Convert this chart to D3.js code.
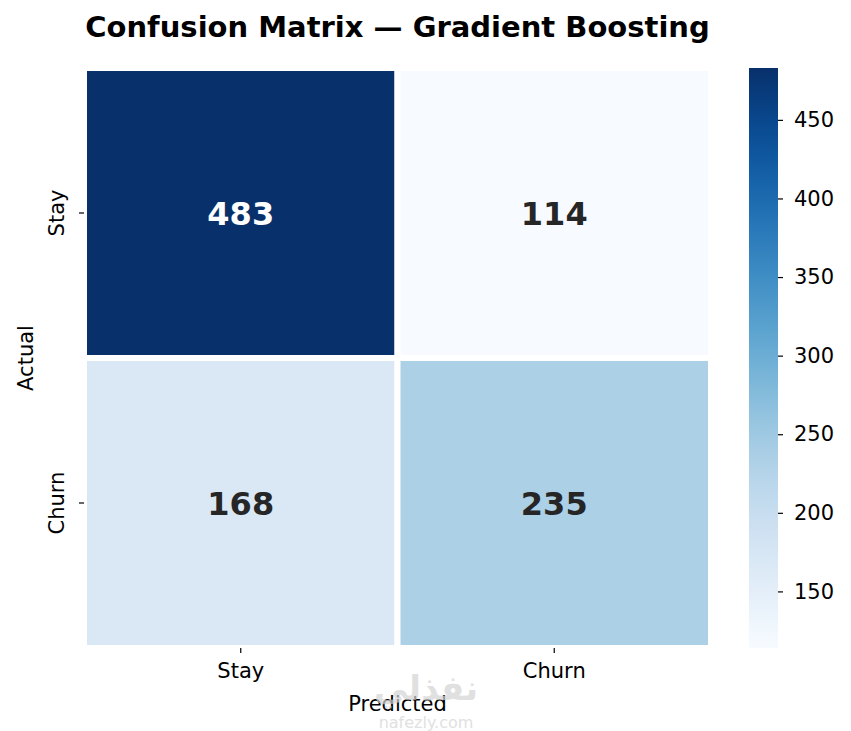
<!DOCTYPE html>
<html>
<head>
<meta charset="utf-8">
<script src="https://cdn.jsdelivr.net/npm/d3@7"></script>
<style>
  html, body { margin: 0; padding: 0; background: #fff; }
  svg { display: block; font-family: "DejaVu Sans", sans-serif; }
</style>
</head>
<body>
<div id="chart"></div>
<script>
// Confusion matrix heatmap with a Blues colour bar.

const actualLabels = ["Stay", "Churn"];
const predictedLabels = ["Stay", "Churn"];
// rows = actual, columns = predicted
const counts = [
  [483, 114],
  [168, 235]
];
const colorbarTicks = [150, 200, 250, 300, 350, 400, 450];

const W = 851, H = 731;
const plot = { left: 84, right: 711, top: 68, bottom: 648 };
const cbar = { left: 749, right: 778 };

const svg = d3.select("#chart").append("svg")
  .attr("width", W)
  .attr("height", H);

const cells = [];
counts.forEach((row, i) => row.forEach((v, j) => {
  cells.push({ actual: actualLabels[i], predicted: predictedLabels[j], value: v });
}));

const extent = d3.extent(cells, d => d.value);

const x = d3.scaleBand().domain(predictedLabels).range([plot.left, plot.right]);
const y = d3.scaleBand().domain(actualLabels).range([plot.top, plot.bottom]);
const color = d3.scaleSequential(d3.interpolateBlues).domain(extent);

// ---- cells ----
svg.append("g").selectAll("rect")
  .data(cells)
  .enter().append("rect")
  .attr("x", d => x(d.predicted))
  .attr("y", d => y(d.actual))
  .attr("width", x.bandwidth())
  .attr("height", y.bandwidth())
  .attr("fill", d => color(d.value))
  .attr("stroke", "#ffffff")
  .attr("stroke-width", 6);

// annotations
const mid = (extent[0] + extent[1]) / 2;
svg.append("g").selectAll("text")
  .data(cells)
  .enter().append("text")
  .attr("x", d => x(d.predicted) + x.bandwidth() / 2)
  .attr("y", d => y(d.actual) + y.bandwidth() / 2)
  .attr("dy", "0.36em")
  .attr("text-anchor", "middle")
  .attr("font-size", 32)
  .attr("font-weight", "bold")
  .attr("fill", d => d.value > mid ? "#ffffff" : "#262626")
  .text(d => d.value);

// ---- axes ----
const xAxis = svg.append("g")
  .attr("transform", `translate(0,${plot.bottom})`)
  .call(d3.axisBottom(x).tickSize(5).tickPadding(10));
xAxis.select(".domain").remove();
xAxis.selectAll("text").attr("font-size", 21).attr("fill", "#000")
  .attr("font-family", "DejaVu Sans");
xAxis.selectAll("line").attr("stroke", "#000").attr("stroke-width", 1.2);

const yAxis = svg.append("g")
  .attr("transform", `translate(${plot.left},0)`)
  .call(d3.axisLeft(y).tickSize(5));
yAxis.select(".domain").remove();
yAxis.selectAll("line").attr("stroke", "#000").attr("stroke-width", 1.2);
yAxis.selectAll("text")
  .attr("font-size", 21)
  .attr("fill", "#000")
  .attr("font-family", "DejaVu Sans")
  .attr("text-anchor", "middle")
  .attr("x", 0).attr("dy", 0)
  .attr("transform", "translate(-20,0) rotate(-90)");

// axis titles
svg.append("text")
  .attr("x", (plot.left + plot.right) / 2)
  .attr("y", 711)
  .attr("text-anchor", "middle")
  .attr("font-size", 21)
  .text("Predicted");

svg.append("text")
  .attr("transform", `translate(33,${(plot.top + plot.bottom) / 2}) rotate(-90)`)
  .attr("text-anchor", "middle")
  .attr("font-size", 21)
  .text("Actual");

// title
svg.append("text")
  .attr("x", (plot.left + plot.right) / 2)
  .attr("y", 37)
  .attr("text-anchor", "middle")
  .attr("font-size", 29)
  .attr("font-weight", "bold")
  .text("Confusion Matrix \u2014 Gradient Boosting");

// ---- colour bar ----
const cScale = d3.scaleLinear().domain(extent).range([plot.bottom, plot.top]);

const grad = svg.append("defs").append("linearGradient")
  .attr("id", "cbar-grad")
  .attr("x1", 0).attr("y1", 1).attr("x2", 0).attr("y2", 0);
d3.range(0, 1.0001, 0.05).forEach(t => {
  grad.append("stop")
    .attr("offset", t)
    .attr("stop-color", color(extent[0] + t * (extent[1] - extent[0])));
});

svg.append("rect")
  .attr("x", cbar.left)
  .attr("y", plot.top)
  .attr("width", cbar.right - cbar.left)
  .attr("height", plot.bottom - plot.top)
  .attr("fill", "url(#cbar-grad)");

const cAxis = svg.append("g")
  .attr("transform", `translate(${cbar.right},0)`)
  .call(d3.axisRight(cScale).tickValues(colorbarTicks).tickSize(5).tickPadding(11));
cAxis.select(".domain").remove();
cAxis.selectAll("text").attr("font-size", 21).attr("fill", "#000")
  .attr("font-family", "DejaVu Sans");
cAxis.selectAll("line").attr("stroke", "#000").attr("stroke-width", 1.2);

// faint site watermark
svg.append("text")
  .attr("x", 426).attr("y", 700)
  .attr("text-anchor", "middle")
  .attr("font-size", 34)
  .attr("font-weight", "bold")
  .attr("fill", "#d4d4d4")
  .attr("opacity", 0.7)
  .text("نفذلي");
svg.append("text")
  .attr("x", 426).attr("y", 728)
  .attr("text-anchor", "middle")
  .attr("font-size", 16)
  .attr("fill", "#d4d4d4")
  .attr("opacity", 0.7)
  .text("nafezly.com");
</script>
</body>
</html>
